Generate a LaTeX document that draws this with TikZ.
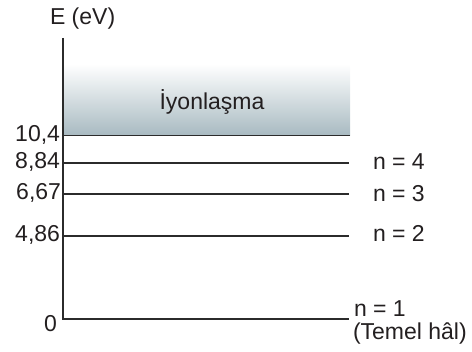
\documentclass[tikz,border=0pt]{standalone}
\usepackage{fontspec}
\setmainfont{Liberation Sans}
\definecolor{lvl}{HTML}{2B2B2B}
\definecolor{ionb}{HTML}{A8BAC1}
\definecolor{txt}{HTML}{231F20}
\begin{document}
\begin{tikzpicture}[x=1pt,y=-1pt,
  lbl/.style={inner sep=0pt,outer sep=0pt,text=txt,font=\fontsize{23}{26}\selectfont},
  levelline/.style={draw=lvl,line width=1.9pt}]
\useasboundingbox (0,0) rectangle (472,352);
% ionization region
\shade[top color=white,bottom color=ionb] (63,64) rectangle (350,135.5);
% axis
\coordinate (atop) at (63,38);
\coordinate (abot) at (63,320);
\draw[levelline] (atop) -- (abot);
% levels
\coordinate (l104a) at (63,135.5); \coordinate (l104b) at (350,135.5);
\coordinate (l4a) at (63,162.7);   \coordinate (l4b) at (349,162.7);
\coordinate (l3a) at (63,194);     \coordinate (l3b) at (349,194);
\coordinate (l2a) at (63,235.7);   \coordinate (l2b) at (349,235.7);
\coordinate (l1a) at (63,319);     \coordinate (l1b) at (349,319);
\draw[levelline] (l104a) -- (l104b);
\draw[levelline] (l4a) -- (l4b);
\draw[levelline] (l3a) -- (l3b);
\draw[levelline] (l2a) -- (l2b);
\draw[levelline] (l1a) -- (l1b);
% texts
\node[lbl,anchor=base west] (E) at (50,25) {E (eV)};
\node[lbl,anchor=base] (ion) at (212,110) {İyonlaşma};
\node[lbl,anchor=base east] (v104) at (60,142) {10,4};
\node[lbl,anchor=base east] (v884) at (60,168.3) {8,84};
\node[lbl,anchor=base east] (v667) at (61,200) {6,67};
\node[lbl,anchor=base east] (v486) at (60,241.7) {4,86};
\node[lbl,anchor=base east] (v0) at (57,331.7) {0};
\node[lbl,anchor=base west] (n4) at (373,170) {n = 4};
\node[lbl,anchor=base west] (n3) at (373,201.7) {n = 3};
\node[lbl,anchor=base west] (n2) at (373,241.7) {n = 2};
\node[lbl,anchor=base west] (n1) at (354,317) {n = 1};
\node[lbl,anchor=base west] (tem) at (353,340) {(Temel hâl)};
\end{tikzpicture}
\end{document}
